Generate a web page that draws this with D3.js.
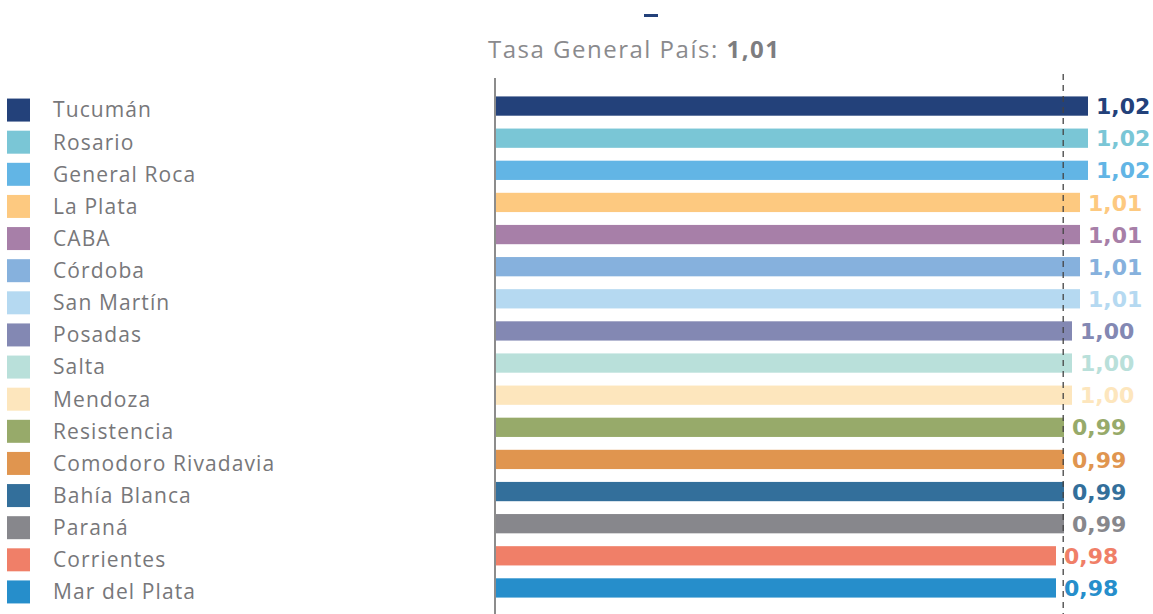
<!DOCTYPE html>
<html>
<head>
<meta charset="utf-8">
<script src="https://cdn.jsdelivr.net/npm/d3@7"></script>
<style>
  html, body { margin: 0; padding: 0; background: #fff; }
  svg { display: block; }
  text { font-family: "Open Sans", sans-serif; }
  text.val { font-family: "DejaVu Sans", sans-serif; }
</style>
</head>
<body>
<svg id="chart" width="1153" height="614"></svg>
<script>
const categories = ["Tucumán", "Rosario", "General Roca", "La Plata", "CABA", "Córdoba", "San Martín", "Posadas", "Salta", "Mendoza", "Resistencia", "Comodoro Rivadavia", "Bahía Blanca", "Paraná", "Corrientes", "Mar del Plata"];
const values = [1.02, 1.02, 1.02, 1.01, 1.01, 1.01, 1.01, 1.00, 1.00, 1.00, 0.99, 0.99, 0.99, 0.99, 0.98, 0.98];
const valueLabels = ["1,02", "1,02", "1,02", "1,01", "1,01", "1,01", "1,01", "1,00", "1,00", "1,00", "0,99", "0,99", "0,99", "0,99", "0,98", "0,98"];
const colors = ["#23417a", "#7ac6d6", "#62b5e5", "#fdc980", "#a77fa8", "#86b1dd", "#b5d9f1", "#8388b3", "#b9e0da", "#fde6bd", "#97aa6a", "#e0954f", "#336f9b", "#87878c", "#f07f68", "#268ecb"];
const titleLabel = "Tasa General País: ";
const titleValue = "1,01";
const referenceValue = 0.989;

const svg = d3.select("#chart");

const x = d3.scaleLinear().domain([0.28, 1.02]).range([496, 1088]);
const y = d3.scaleBand().domain(categories).range([90, 604]).paddingInner(0.4).paddingOuter(0.2);
const color = d3.scaleOrdinal().domain(categories).range(colors);

const data = categories.map((c, i) => ({ name: c, value: values[i], label: valueLabels[i] }));

// Title
svg.append("rect").attr("x", 644).attr("y", 14).attr("width", 14).attr("height", 3).attr("fill", "#23417a");
const title = svg.append("text").attr("x", 488).attr("y", 58)
  .attr("font-size", 24).attr("fill", "#8a8a8d").attr("letter-spacing", "1.5px");
title.append("tspan").attr("font-weight", 500).text(titleLabel);
title.append("tspan").attr("font-weight", 700).attr("fill", "#7d7d80").text(titleValue);

// Bars
svg.append("g").selectAll("rect").data(data).join("rect")
  .attr("x", x(0.28))
  .attr("y", d => y(d.name))
  .attr("width", d => x(d.value) - x(0.28))
  .attr("height", y.bandwidth())
  .attr("fill", d => color(d.name));

// Value labels
svg.append("g").selectAll("text").data(data).join("text")
  .attr("class", "val")
  .attr("x", d => x(d.value) + 8)
  .attr("y", d => y(d.name) + y.bandwidth() / 2)
  .attr("dy", "0.37em")
  .attr("font-size", 22)
  .attr("font-weight", 700)
  .attr("fill", d => color(d.name))
  .text(d => d.label);

// Axis line
const yAxis = d3.axisLeft(y).tickSize(0).tickFormat("");
svg.append("g").attr("transform", "translate(495,0)").call(yAxis)
  .call(g => g.select(".domain").attr("d", "M0,78V614").attr("stroke", "#8c8c8c").attr("stroke-width", 2));

// Reference dashed line
svg.append("line")
  .attr("x1", x(referenceValue)).attr("x2", x(referenceValue))
  .attr("y1", 74).attr("y2", 614)
  .attr("stroke", "#444").attr("stroke-width", 1.3).attr("stroke-dasharray", "6,5");

// Legend
const legend = svg.append("g").selectAll("g").data(data).join("g")
  .attr("transform", d => `translate(0, ${y(d.name) + y.bandwidth() / 2 + 4})`);
legend.append("rect").attr("x", 7).attr("y", -11.5).attr("width", 23).attr("height", 23)
  .attr("fill", d => color(d.name));
legend.append("text").attr("x", 53).attr("y", 0).attr("dy", "0.35em")
  .attr("font-size", 21).attr("fill", "#77777a").attr("letter-spacing", "1.1px")
  .text(d => d.name);
</script>
</body>
</html>
